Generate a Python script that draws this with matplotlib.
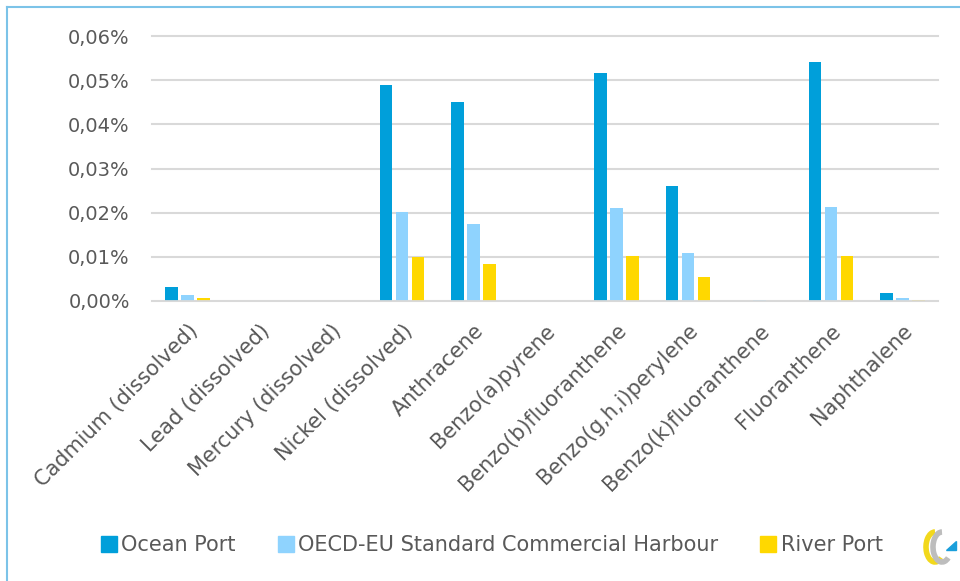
import matplotlib.pyplot as plt
import numpy as np
from matplotlib.patches import Arc, Polygon
from matplotlib.lines import Line2D
from matplotlib.ticker import FuncFormatter

# data (values in %)
categories = [
    "Cadmium (dissolved)", "Lead (dissolved)", "Mercury (dissolved)",
    "Nickel (dissolved)", "Anthracene", "Benzo(a)pyrene",
    "Benzo(b)fluoranthene", "Benzo(g,h,i)perylene", "Benzo(k)fluoranthene",
    "Fluoranthene", "Naphthalene",
]
ocean_port = [0.0032, 0, 0, 0.0489, 0.0450, 0, 0.0516, 0.0260, 0, 0.0541, 0.0017]
oecd_eu = [0.0014, 0, 0, 0.0201, 0.0174, 0, 0.0211, 0.0109, 0.0003, 0.0213, 0.0007]
river_port = [0.0006, 0, 0, 0.0100, 0.0084, 0, 0.0102, 0.0054, 0, 0.0102, 0.0003]

series_names = ["Ocean Port", "OECD-EU Standard Commercial Harbour", "River Port"]
colors = ["#009FDA", "#8FD3FE", "#FFD800"]
text_color = "#595959"

plt.rcParams["font.family"] = ["DejaVu Sans"]

fig = plt.figure(figsize=(9.6, 5.81), dpi=100)
ax = fig.add_axes([152 / 960, 1 - 301 / 581, (938 - 152) / 960, (301 - 36) / 581])

x = np.arange(len(categories))
step = 0.224
width = 0.175
for i, (vals, name, col) in enumerate(zip([ocean_port, oecd_eu, river_port], series_names, colors)):
    ax.bar(x + (i - 1) * step, vals, width, color=col, label=name, zorder=3)

ax.set_xlim(-0.5, len(categories) - 0.5)
ax.set_ylim(0, 0.06)
ax.set_yticks(np.arange(0, 0.061, 0.01))
ax.yaxis.set_major_formatter(FuncFormatter(lambda v, p: f"{v:.2f}%".replace(".", ",")))
ax.grid(axis="y", color="#D9D9D9", linewidth=1.5, zorder=0)
for gl in ax.get_ygridlines():
    gl.set_clip_on(False)
ax.axhline(0, color="#D9D9D9", linewidth=2, zorder=4)
for s in ax.spines.values():
    s.set_visible(False)
ax.tick_params(length=0, labelsize=14, colors=text_color)
ax.tick_params(axis="y", pad=16)
ax.set_xticks(x)
ax.set_xticklabels(categories, rotation=45, ha="right", rotation_mode="anchor")
ax.tick_params(axis="x", pad=14, labelsize=15)

# legend
handles = [Line2D([], [], marker="s", linestyle="none", markersize=11,
                  markerfacecolor=c, markeredgecolor=c) for c in colors]
fig.legend(handles, series_names, loc="center", bbox_to_anchor=(0.512, 1 - 545 / 581),
           ncol=3, frameon=False, fontsize=15, labelcolor=text_color,
           handlelength=0.8, handletextpad=0.2, columnspacing=2.0)

# frame lines at left and top
fig.add_artist(Line2D([7 / 960, 7 / 960], [0, 1 - 7 / 581], color="#7CC3E8", linewidth=1.5))
fig.add_artist(Line2D([7 / 960, 1], [1 - 7 / 581, 1 - 7 / 581], color="#7CC3E8", linewidth=1.5))

# small logo bottom right
lax = fig.add_axes([922 / 960, 1 - 572 / 581, 36 / 960, 50 / 581])
lax.set_xlim(0, 36)
lax.set_ylim(0, 50)
lax.axis("off")
lax.add_patch(Arc((13, 25), 18, 30, theta1=90, theta2=300, color="#F2D81C", linewidth=4))
lax.add_patch(Arc((20, 25), 18, 30, theta1=90, theta2=300, color="#BDBDBD", linewidth=4))
lax.add_patch(Polygon([[24, 22], [34, 22], [34, 31]], closed=True, color="#1A9FDB"))

fig.savefig("out.png", dpi=100)
